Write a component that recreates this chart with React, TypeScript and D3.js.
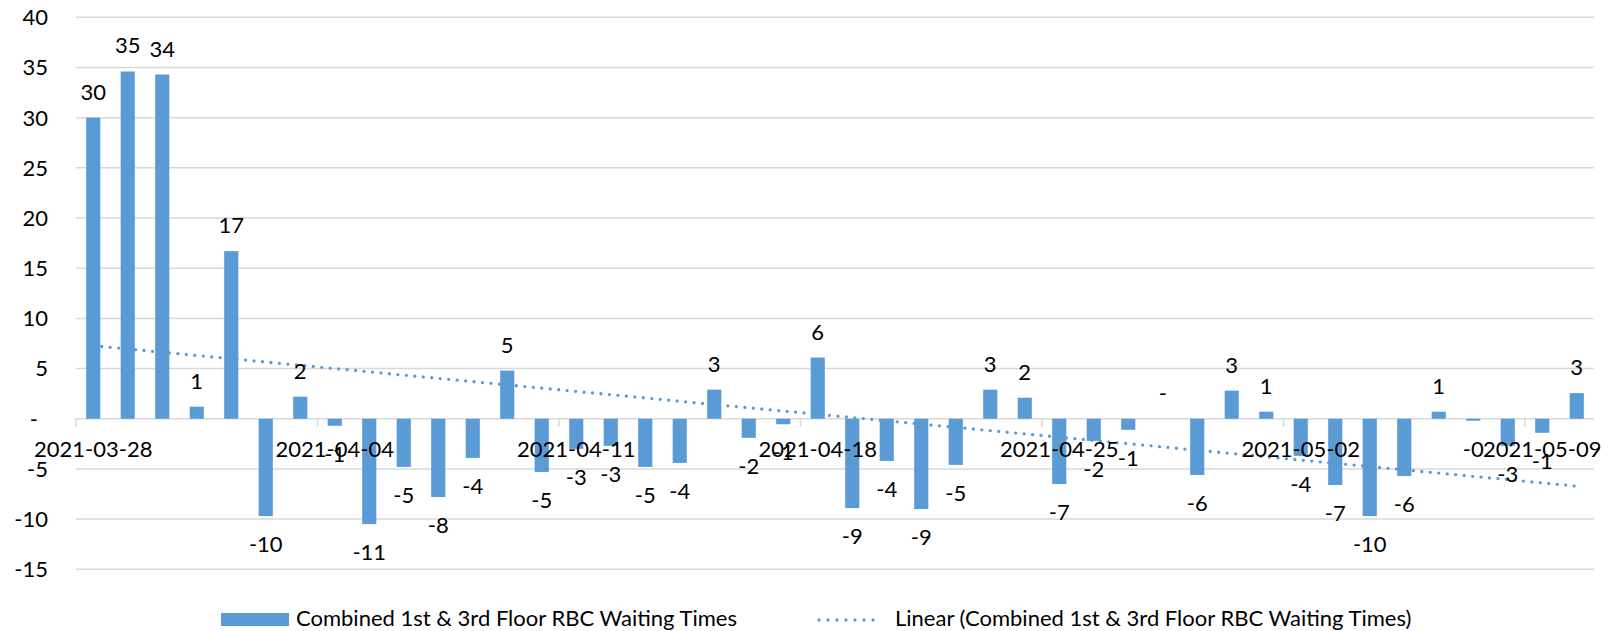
import { useEffect, useRef } from "react";
import * as d3 from "d3";

// daily change in combined waiting times, one bar per day
const firstDay = "2021-03-28";
const lastDayExclusive = "2021-05-11";
const waitDelta = [
  30.0, 34.6, 34.3, 1.2, 16.7, -9.7, 2.2, -0.7, -10.5, -4.8, -7.8,
  -3.9, 4.8, -5.3, -3.0, -2.7, -4.8, -4.4, 2.9, -1.9, -0.55, 6.1,
  -8.9, -4.2, -9.0, -4.6, 2.9, 2.1, -6.5, -2.2, -1.1, 0, -5.6,
  2.8, 0.7, -3.7, -6.6, -9.7, -5.7, 0.7, -0.2, -2.7, -1.4, 2.55
];
const yTicks = [-15, -10, -5, 0, 5, 10, 15, 20, 25, 30, 35, 40];
const labelEvery = 7;
const seriesName = "Combined 1st & 3rd Floor RBC Waiting Times";
const trendName = `Linear (${seriesName})`;

const fmtDay = d3.utcFormat("%Y-%m-%d");
const days = d3.utcDay.range(new Date(firstDay), new Date(lastDayExclusive)).map(fmtDay);

const BAR = "#5B9BD5";
const GRID = "#D9D9D9";
const FONT = "Lato, 'Open Sans', sans-serif";
const FS = 22;

function fmtLabel(v: number) {
  if (v === 0) return "-";
  return (v < 0 ? "-" : "") + Math.round(Math.abs(v));
}

export default function App() {
  const ref = useRef<SVGSVGElement | null>(null);

  useEffect(() => {
    const svg = d3.select(ref.current);
    const W = 1619, H = 631;
    const m = { l: 76, r: 25, t: 17.3, b: 61.7 };
    svg.selectAll("*").remove();

    const x = d3.scaleBand<string>()
      .domain(days)
      .range([m.l, W - m.r])
      .paddingInner(0.59)
      .paddingOuter(0.295);
    const step = x.step();
    const cx = (d: string) => (x(d) ?? 0) + x.bandwidth() / 2;

    const y = d3.scaleLinear().domain([-15, 40]).range([H - m.b, m.t]);

    svg.append("rect").attr("width", W).attr("height", H).attr("fill", "#fff");

    // gridlines
    svg.append("g")
      .selectAll("line")
      .data(yTicks)
      .enter()
      .append("line")
      .attr("x1", m.l).attr("x2", W - m.r)
      .attr("y1", d => y(d)).attr("y2", d => y(d))
      .attr("stroke", GRID)
      .attr("stroke-width", 1.5);

    // category tick marks on the zero line
    const tickIdx = days.map((_, i) => i).filter(i => i % labelEvery === 0);
    svg.append("g")
      .selectAll("line")
      .data(tickIdx)
      .enter()
      .append("line")
      .attr("x1", i => m.l + i * step).attr("x2", i => m.l + i * step)
      .attr("y1", y(0)).attr("y2", y(0) + 8)
      .attr("stroke", GRID)
      .attr("stroke-width", 1.5);

    // bars
    svg.append("g")
      .selectAll("rect")
      .data(waitDelta)
      .enter()
      .append("rect")
      .attr("x", (_, i) => x(days[i]) ?? 0)
      .attr("width", x.bandwidth())
      .attr("y", d => y(Math.max(0, d)))
      .attr("height", d => Math.abs(y(d) - y(0)))
      .attr("fill", BAR);

    // linear trend (least squares over day index)
    const idx = waitDelta.map((_, i) => i);
    const mx = d3.mean(idx) ?? 0;
    const my = d3.mean(waitDelta) ?? 0;
    const sxy = d3.sum(idx, i => (i - mx) * (waitDelta[i] - my));
    const sxx = d3.sum(idx, i => (i - mx) * (i - mx));
    const slope = sxy / sxx;
    const fit = (i: number) => my + slope * (i - mx);

    const trend = d3.line<number>()
      .x(i => cx(days[i]))
      .y(i => y(fit(i)));
    svg.append("path")
      .datum([0, waitDelta.length - 1])
      .attr("d", trend)
      .attr("fill", "none")
      .attr("stroke", BAR)
      .attr("stroke-width", 3.3)
      .attr("stroke-linecap", "round")
      .attr("stroke-dasharray", "0 8.5");

    // data labels
    svg.append("g")
      .selectAll("text")
      .data(waitDelta)
      .enter()
      .append("text")
      .attr("x", (_, i) => cx(days[i]))
      .attr("y", d => (d >= 0 ? y(d) - 18 : y(d) + 36))
      .attr("text-anchor", "middle")
      .attr("font-family", FONT)
      .attr("font-size", FS)
      .attr("fill", "#000")
      .text(d => fmtLabel(d));

    // category labels
    svg.append("g")
      .selectAll("text")
      .data(tickIdx)
      .enter()
      .append("text")
      .attr("x", i => cx(days[i]))
      .attr("y", y(0) + 38)
      .attr("text-anchor", "middle")
      .attr("font-family", FONT)
      .attr("font-size", FS)
      .attr("fill", "#000")
      .text(i => days[i]);

    // value axis labels
    svg.append("g")
      .selectAll("text")
      .data(yTicks)
      .enter()
      .append("text")
      .attr("x", d => (d === 0 ? 38 : 48))
      .attr("y", d => y(d))
      .attr("dy", "0.36em")
      .attr("text-anchor", "end")
      .attr("font-family", FONT)
      .attr("font-size", FS)
      .attr("fill", "#000")
      .text(d => fmtLabel(d));

    // legend
    const lg = svg.append("g").attr("font-family", FONT).attr("font-size", FS).attr("fill", "#000");
    lg.append("rect")
      .attr("x", 221).attr("y", 613)
      .attr("width", 68).attr("height", 13)
      .attr("fill", BAR);
    lg.append("text").attr("x", 296).attr("y", 626).text(seriesName);
    lg.append("line")
      .attr("x1", 819).attr("x2", 882)
      .attr("y1", 620).attr("y2", 620)
      .attr("stroke", BAR)
      .attr("stroke-width", 3.3)
      .attr("stroke-linecap", "round")
      .attr("stroke-dasharray", "0 9");
    lg.append("text").attr("x", 895).attr("y", 626).text(trendName);
  }, []);

  return (
    <svg
      ref={ref}
      width={1619}
      height={631}
      style={{ position: "absolute", left: 0, top: 0, display: "block" }}
    />
  );
}
